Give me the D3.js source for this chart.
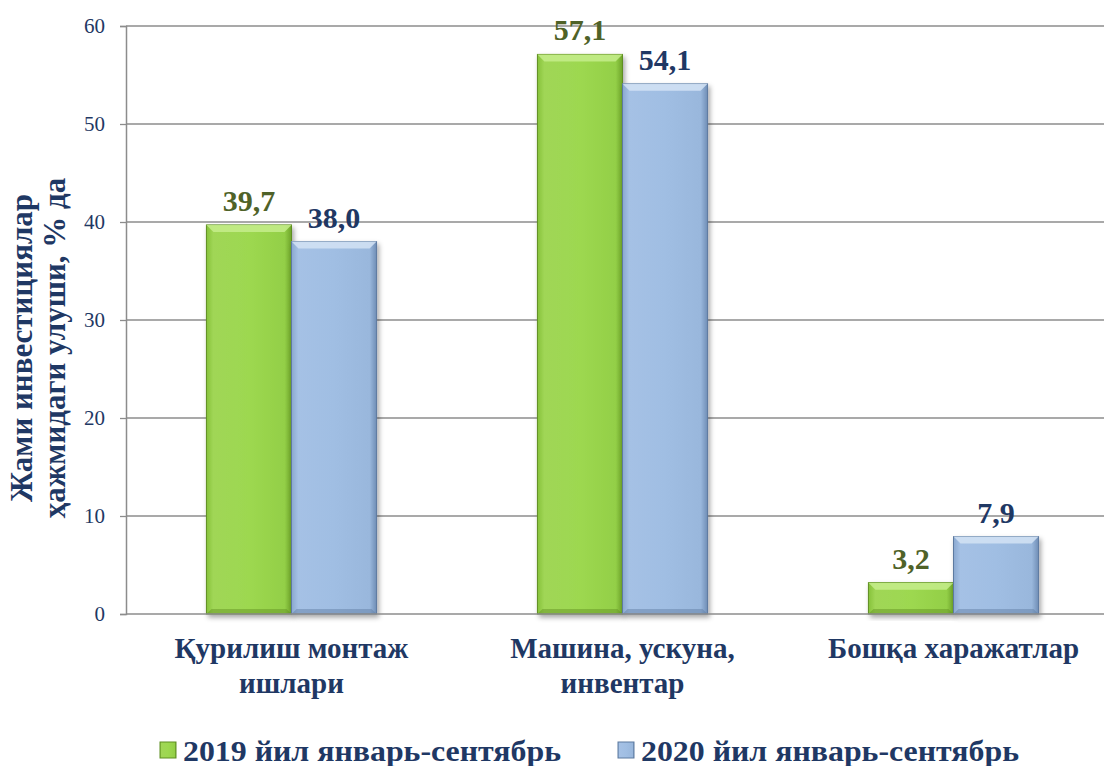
<!DOCTYPE html>
<html>
<head>
<meta charset="utf-8">
<script src="https://cdn.jsdelivr.net/npm/d3@7"></script>
<style>
  body { margin: 0; background: #fff; overflow: hidden; }
  text { font-family: "Liberation Serif", "Times New Roman", serif; }
</style>
</head>
<body>
<script>
// Data
var categories = [["Қурилиш монтаж", "ишлари"], ["Машина, ускуна,", "инвентар"], ["Бошқа харажатлар"]];
var seriesNames = ["2019 йил январь-сентябрь", "2020 йил январь-сентябрь"];
var values2019 = [39.7, 57.1, 3.2];
var values2020 = [38.0, 54.1, 7.9];
var yTicks = [0, 10, 20, 30, 40, 50, 60];

// SVG dimensions
var svgWidth = 1104;
var svgHeight = 766;
var margin = { top: 26, left: 126, bottom: 152 };
var chartWidth = 993;   // plot area runs past the right edge of the picture
var chartHeight = svgHeight - margin.top - margin.bottom;

var svg = d3.select("body").append("svg")
    .attr("width", svgWidth)
    .attr("height", svgHeight);

var defs = svg.append("defs");

function grad(id, stops) {
    var g = defs.append("linearGradient").attr("id", id)
        .attr("x1", "0").attr("y1", "0").attr("x2", "1").attr("y2", "0");
    stops.forEach(s => g.append("stop").attr("offset", s[0]).attr("stop-color", s[1]));
}
grad("gGreen", [[0, "#86c23a"], [0.08, "#a0d656"], [0.5, "#9dd850"], [0.92, "#93cf47"], [1, "#6ea42a"]]);
grad("gBlue", [[0, "#8aa8cf"], [0.08, "#a5c1e5"], [0.5, "#a0bee3"], [0.92, "#99b7dc"], [1, "#6f8db5"]]);

var shadow = defs.append("filter").attr("id", "shadow")
    .attr("x", "-10%").attr("y", "-10%").attr("width", "130%").attr("height", "130%");
shadow.append("feDropShadow").attr("dx", 2).attr("dy", 3).attr("stdDeviation", 2.5)
    .attr("flood-color", "#000").attr("flood-opacity", 0.35);

var chartGroup = svg.append("g")
    .attr("transform", `translate(${margin.left}, ${margin.top})`);

// Scales
var x0 = d3.scaleBand()
    .domain(d3.range(categories.length))
    .range([0, chartWidth]);

var x1 = d3.scaleBand()
    .domain([0, 1])
    .range([x0.bandwidth() * 0.243, x0.bandwidth() * 0.757]);

var y = d3.scaleLinear()
    .domain([0, 60])
    .range([chartHeight, 0]);

// Gridlines
chartGroup.append("g")
    .selectAll("line")
    .data(yTicks.filter(d => d > 0))
    .enter().append("line")
    .attr("x1", 0).attr("x2", chartWidth)
    .attr("y1", d => y(d)).attr("y2", d => y(d))
    .attr("stroke", "#8c8c8c").attr("stroke-width", 1.3);

// Y axis
var leftAxis = d3.axisLeft(y).tickValues(yTicks).tickSize(6).tickPadding(15).tickFormat(d3.format("d"));
var yAxis = chartGroup.append("g").call(leftAxis);
yAxis.select(".domain").attr("stroke", "#8c8c8c").attr("stroke-width", 1.5);
yAxis.selectAll(".tick line").attr("stroke", "#8c8c8c").attr("stroke-width", 1.3);
yAxis.selectAll(".tick text")
    .attr("font-size", 21)
    .attr("fill", "#1f3864");

// Bars
var series = [
    { vals: values2019, fill: "url(#gGreen)", top: "#c6ed8c", edge: "#5f8f22", label: "#4f6228" },
    { vals: values2020, fill: "url(#gBlue)", top: "#d3e3f5", edge: "#5d7aa0", label: "#1f3864" }
];

series.forEach(function (s, si) {
    var g = chartGroup.append("g");
    var bars = g.selectAll("g.bar")
        .data(s.vals)
        .enter().append("g")
        .attr("class", "bar")
        .attr("transform", (d, i) => `translate(${x0(i) + x1(si)}, 0)`);

    bars.append("rect")
        .attr("x", 0)
        .attr("y", d => y(d))
        .attr("width", x1.bandwidth())
        .attr("height", d => y(0) - y(d))
        .attr("fill", s.fill)
        .attr("stroke", s.edge)
        .attr("stroke-width", 1)
        .attr("filter", "url(#shadow)");

    // top bevel
    bars.append("path")
        .attr("d", function (d) {
            var w = x1.bandwidth(), t = y(d), b = 7;
            return `M0,${t} L${w},${t} L${w - b},${t + b} L${b},${t + b} Z`;
        })
        .attr("fill", s.top)
        .attr("opacity", 0.85);

    // bottom bevel
    bars.append("path")
        .attr("d", function (d) {
            var w = x1.bandwidth(), bt = y(0), b = 5;
            return `M0,${bt} L${w},${bt} L${w - b},${bt - b} L${b},${bt - b} Z`;
        })
        .attr("fill", s.edge)
        .attr("opacity", 0.45);

    // value labels
    g.selectAll("text")
        .data(s.vals)
        .enter().append("text")
        .attr("x", (d, i) => x0(i) + x1(si) + x1.bandwidth() / 2)
        .attr("y", d => y(d) - 14)
        .attr("text-anchor", "middle")
        .attr("font-size", 30)
        .attr("font-weight", "bold")
        .attr("fill", s.label)
        .text(d => d3.format(".1f")(d).replace(".", ","));
});

// X axis baseline
chartGroup.append("line")
    .attr("x1", 0).attr("x2", chartWidth)
    .attr("y1", y(0)).attr("y2", y(0))
    .attr("stroke", "#8c8c8c").attr("stroke-width", 1.5);

// Category labels
categories.forEach(function (lines, i) {
    var cx = x0(i) + x0.bandwidth() / 2;
    var t = chartGroup.append("text")
        .attr("x", cx)
        .attr("y", chartHeight + 44)
        .attr("text-anchor", "middle")
        .attr("font-size", 29)
        .attr("font-weight", "bold")
        .attr("fill", "#1f3864");
    lines.forEach((l, k) => t.append("tspan")
        .attr("x", cx)
        .attr("dy", k === 0 ? 0 : 35)
        .text(l));
});

// Y axis title
var yTitle = svg.append("text")
    .attr("transform", "translate(32, 348) rotate(-90)")
    .attr("text-anchor", "middle")
    .attr("font-size", 31)
    .attr("font-weight", "bold")
    .attr("fill", "#1f3864");
yTitle.append("tspan").attr("x", 0).attr("dy", 0).text("Жами инвестициялар");
yTitle.append("tspan").attr("x", 0).attr("dy", 33).text("ҳажмидаги улуши, % да");

// Legend
var legendItems = [
    { name: seriesNames[0], x: 160, fill: "url(#gGreen)", edge: "#5f8f22" },
    { name: seriesNames[1], x: 618, fill: "url(#gBlue)", edge: "#5d7aa0" }
];
var legend = svg.append("g").attr("transform", "translate(0, 761)");
legendItems.forEach(function (d) {
    legend.append("rect")
        .attr("x", d.x).attr("y", -19)
        .attr("width", 16).attr("height", 16)
        .attr("fill", d.fill).attr("stroke", d.edge).attr("stroke-width", 1);
    legend.append("text")
        .attr("x", d.x + 23).attr("y", 0)
        .attr("font-size", 29)
        .attr("font-weight", "bold")
        .attr("fill", "#1f3864")
        .attr("textLength", 378)
        .attr("lengthAdjust", "spacingAndGlyphs")
        .text(d.name);
});
</script>
</body>
</html>
